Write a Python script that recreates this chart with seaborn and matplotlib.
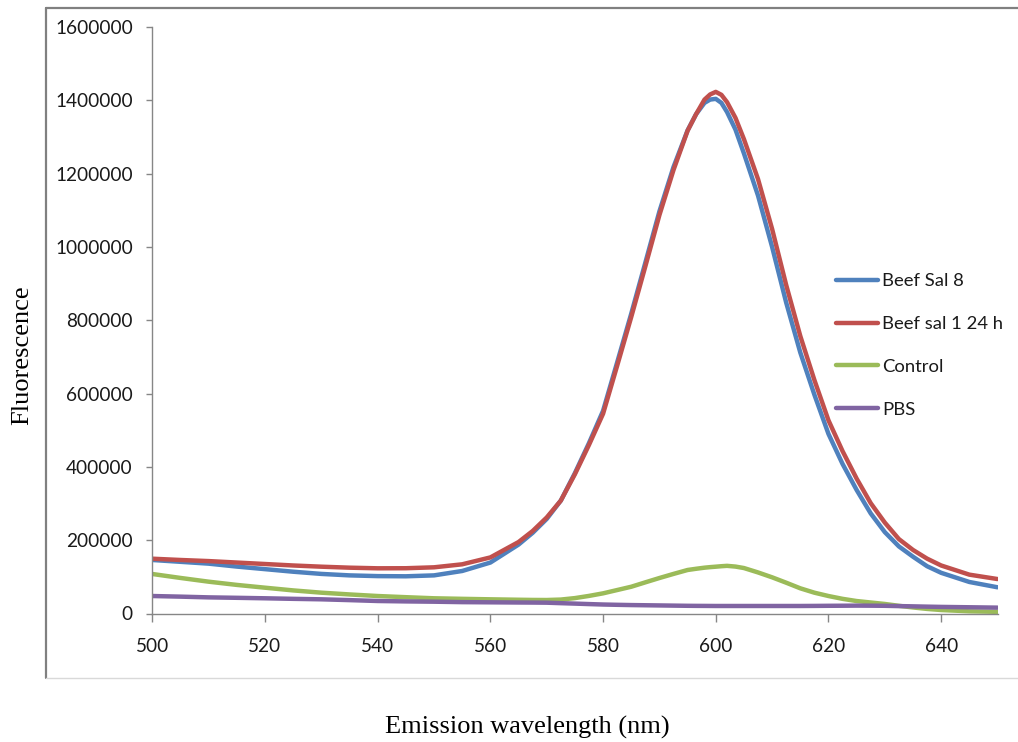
import matplotlib
matplotlib.use("Agg")
import matplotlib.pyplot as plt
from matplotlib.lines import Line2D
import seaborn as sns
import pandas as pd

# ---------------- data ----------------
wavelength = [500, 505, 510, 515, 520, 525, 530, 535, 540, 545, 550, 555, 560,
              565, 567.5, 570, 572.5, 575, 577.5, 580, 582.5, 585, 587.5, 590,
              592.5, 595, 596.5, 598, 599, 600, 601, 602, 603.5, 605, 607.5, 610,
              612.5, 615, 617.5, 620, 622.5, 625, 627.5, 630, 632.5, 635, 637.5,
              640, 645, 650]

beef_sal_8 = [146000, 141000, 136000, 128000, 121000, 114000, 108000, 104000, 102000,
              101500, 104000, 116000, 139000,
              188000, 220000, 258000, 308000, 383000, 465000, 553000, 685000, 818000,
              957000, 1097000,
              1218000, 1318000, 1362000, 1393000, 1402000, 1404000, 1393000, 1368000,
              1320000, 1255000, 1140000, 1000000,
              848000, 712000, 597000, 490000, 408000, 337000, 273000, 222000, 183000,
              155000, 129000,
              111000, 86000, 71500]

beef_sal_1_24h = [149500, 146000, 143000, 139000, 135000, 131000, 127700, 125000, 123300,
                  123500, 126000, 134200, 153000,
                  195000, 225000, 262000, 308000, 380000, 460000, 545000, 676000, 809000,
                  947000, 1087000,
                  1210000, 1317000, 1362000, 1402000, 1416000, 1423000, 1415000, 1395000,
                  1352000, 1294000, 1185000, 1049000,
                  896000, 757000, 637000, 527000, 443000, 368000, 301000, 248000, 203000,
                  173400, 149700,
                  131000, 106000, 94000]

control = [107800, 97000, 86800, 78000, 70400, 63000, 56800, 52000, 47700, 44500, 41500,
           40000, 38700,
           37500, 37000, 36800, 38000, 42000, 48000, 55000, 64000, 73000, 85000, 96800,
           108000, 118700, 122000, 125000, 126500, 127700, 129000, 130000, 128000,
           124000, 112000, 98700,
           84000, 68700, 56800, 47700, 40000, 34000, 30000, 26000, 21000, 16500, 12500,
           9500, 6000, 4500]

pbs = [47700, 46000, 44000, 42800, 41500, 40000, 38700, 36500, 34100, 33000, 32200,
       31000, 30500,
       30000, 29800, 29500, 28200, 27000, 25700, 24500, 23700, 23000, 22500, 22000,
       21500, 21000, 20800, 20700, 20600, 20500, 20500, 20500, 20500, 20500, 20500,
       20500,
       20500, 20500, 20700, 21000, 21200, 21500, 21300, 21000, 20200, 19500, 18700,
       18000, 17000, 16000]

series_names = ["Beef Sal 8", "Beef sal 1 24 h", "Control", "PBS"]
series_colors = ["#4F81BD", "#C0504D", "#9BBB59", "#8064A2"]

x_ticks = [500, 520, 540, 560, 580, 600, 620, 640]
y_ticks = [0, 200000, 400000, 600000, 800000, 1000000, 1200000, 1400000, 1600000]
y_tick_labels = ["0", "200000", "400000", "600000", "800000", "1000000",
                 "1200000", "1400000", "1600000"]

x_label = "Emission wavelength (nm)"
y_label = "Fluorescence"

# ---------------- build long table ----------------
frames = []
for name, vals in zip(series_names, [beef_sal_8, beef_sal_1_24h, control, pbs]):
    frames.append(pd.DataFrame({"wavelength": wavelength, "value": vals, "series": name}))
df = pd.concat(frames, ignore_index=True)

# ---------------- figure ----------------
sns.set_theme(style="white")
plt.rcParams["font.family"] = ["Lato", "DejaVu Sans"]

W, H = 1018, 742
fig = plt.figure(figsize=(W / 100, H / 100), dpi=100)
fig.patch.set_facecolor("white")

left_px, right_px, top_px, bottom_px = 152.3, 997.5, 27.0, 613.5
ax = fig.add_axes([left_px / W, 1 - bottom_px / H,
                   (right_px - left_px) / W, (bottom_px - top_px) / H])

sns.lineplot(data=df, x="wavelength", y="value", hue="series",
             hue_order=series_names, palette=dict(zip(series_names, series_colors)),
             linewidth=3.2, ax=ax, legend=True, sort=False)
for ln in ax.get_lines():
    ln.set_solid_joinstyle("round")
    ln.set_solid_capstyle("round")

ax.set_xlim(500, 650)
ax.set_ylim(0, 1600000)
ax.set_xticks(x_ticks)
ax.set_xticklabels([str(t) for t in x_ticks])
ax.set_yticks(y_ticks)
ax.set_yticklabels(y_tick_labels)
ax.set_xlabel("")
ax.set_ylabel("")

for side in ["top", "right"]:
    ax.spines[side].set_visible(False)
for side in ["left", "bottom"]:
    ax.spines[side].set_color("#868686")
    ax.spines[side].set_linewidth(1.0)

ax.tick_params(axis="both", colors="#868686", labelcolor="#1a1a1a",
               labelsize=13.7, direction="out", width=1.0)
ax.tick_params(axis="y", length=4.5, pad=9.5, left=True)
ax.tick_params(axis="x", length=5.5, pad=12.5, bottom=True)

# legend
sns.move_legend(ax, loc="center left",
                bbox_to_anchor=(836 / W, 1 - 345.5 / H),
                bbox_transform=fig.transFigure,
                title=None, frameon=False, fontsize=13.3,
                handlelength=2.3, handletextpad=0.2, labelspacing=1.45,
                borderaxespad=0, borderpad=0)
for t in ax.get_legend().get_texts():
    t.set_color("#1a1a1a")
for h in ax.get_legend().get_lines():
    h.set_linewidth(3.2)

# axis titles (serif)
fig.text(527 / W, 1 - 727 / H, x_label, ha="center", va="center",
         fontsize=19, family=["Liberation Serif", "DejaVu Serif"], color="black")
fig.text(22 / W, 1 - 355 / H, y_label, ha="center", va="center", rotation=90,
         fontsize=19, family=["Liberation Serif", "DejaVu Serif"], color="black")

# chart-area frame
fig.add_artist(Line2D([46 / W, 46 / W], [1 - 8 / H, 1 - 678 / H],
                      transform=fig.transFigure, color="#808080", linewidth=1.6))
fig.add_artist(Line2D([46 / W, 1.0], [1 - 8 / H, 1 - 8 / H],
                      transform=fig.transFigure, color="#808080", linewidth=1.6))
fig.add_artist(Line2D([46 / W, 1.0], [1 - 678 / H, 1 - 678 / H],
                      transform=fig.transFigure, color="#d9d9d9", linewidth=1.0))

fig.savefig("out.png", dpi=100, facecolor="white")
